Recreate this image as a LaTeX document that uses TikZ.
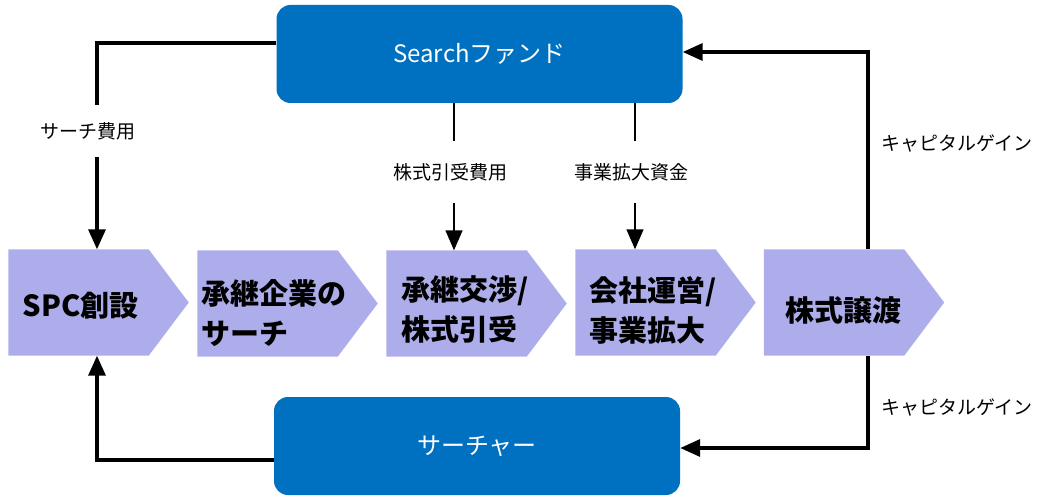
\documentclass[tikz,border=0pt]{standalone}
\usepackage{fontspec}
\setmainfont{Noto Sans CJK JP}
\newfontfamily\jp{Noto Sans CJK JP}
\usetikzlibrary{arrows.meta,backgrounds,calc}
\definecolor{fundblue}{RGB}{0,112,192}
\definecolor{lav}{RGB}{173,173,235}
\tikzset{
  bigbox/.style={fill=fundblue, rounded corners=14pt, minimum width=406pt, minimum height=98pt, inner sep=0pt, text=white, font=\jp\fontsize{24}{28}\selectfont},
  stage/.style={minimum width=180pt, minimum height=106pt, inner sep=0pt},
  stagetxt/.style={font=\jp\bfseries\fontsize{29}{40}\selectfont, align=left, inner sep=0pt},
  lbl/.style={font=\jp\fontsize{19}{22}\selectfont, inner sep=0pt},
  flow/.style={line width=3.4pt, -{Triangle[width=17pt,length=20pt]}},
  flowline/.style={line width=3.4pt},
  thinflow/.style={line width=1.4pt, -{Triangle[width=17pt,length=20pt]}},
  thinline/.style={line width=1.4pt}
}
\begin{document}
\begin{tikzpicture}[x=1pt,y=-1pt]
\useasboundingbox (0,0) rectangle (1038,497);
% boxes
\node[bigbox] (fund) at (479.5,54) {Searchファンド};
\node[bigbox] (seeker) at (477,446) {サーチャー};
% stages
\node[stage] (s1) at (98.5,302.5) {};
\node[stage] (s2) at (287.5,303.5) {};
\node[stage] (s3) at (476.5,303.5) {};
\node[stage] (s4) at (665.5,302.5) {};
\node[stage] (s5) at (854,302.5) {};
\begin{scope}[on background layer]
\foreach \s in {s1,s2,s3,s4,s5}{
  \fill[lav] (\s.north west) -- ([xshift=-40pt]\s.north east) -- (\s.east) -- ([xshift=-40pt]\s.south east) -- (\s.south west) -- cycle;
}
\end{scope}
\node[stagetxt] (t1) at ([xshift=-18pt,yshift=-3pt]s1.center) {SPC創設};
\node[stagetxt] (t2) at ([xshift=-14pt,yshift=-10pt]s2.center) {承継企業の\\サーチ};
\node[stagetxt] (t3) at ([xshift=-11pt,yshift=-6pt]s3.center) {承継交渉/\\株式引受};
\node[stagetxt] (t4) at ([xshift=-12pt,yshift=-8pt]s4.center) {会社運営/\\事業拡大};
\node[stagetxt] (t5) at ([xshift=-11pt,yshift=-8pt]s5.center) {株式譲渡};
% labels
\node[lbl, minimum height=52pt] (l1) at (88,131) {サーチ費用};
\node[lbl, minimum height=62pt] (l2) at (450,172) {株式引受費用};
\node[lbl, minimum height=62pt] (l3) at (631,172) {事業拡大資金};
\node[lbl] (l4) at (957,143) {キャピタルゲイン};
\node[lbl] (l5) at (957,407) {キャピタルゲイン};
% coordinates for vertical lines
\coordinate (c1) at (97,0);
\coordinate (c2) at (454,0);
\coordinate (c3) at (635,0);
\coordinate (cr) at (868,0);
% connectors
\draw[flowline] ([yshift=11pt]fund.west) -| (c1 |- l1.north);
\draw[flow] (c1 |- l1.south) -- (s1.north -| c1);
\draw[thinline] (fund.south -| c2) -- (l2.north -| c2);
\draw[thinflow] (l2.south -| c2) -- (s3.north -| c2);
\draw[thinline] (fund.south -| c3) -- (l3.north -| c3);
\draw[thinflow] (l3.south -| c3) -- (s4.north -| c3);
\draw[flow] (s5.north -| cr) |- ([yshift=2pt]fund.east);
\draw[flow] (s5.south -| cr) |- ([yshift=-2pt]seeker.east);
\draw[flow] ([yshift=-14pt]seeker.west) -| (s1.south -| c1);
\end{tikzpicture}
\end{document}
